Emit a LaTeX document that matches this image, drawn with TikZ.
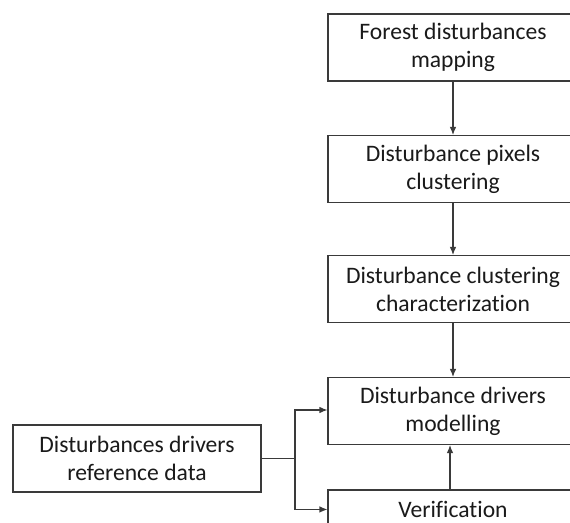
\documentclass[tikz,border=0pt]{standalone}
\usepackage{fontspec}
\setmainfont{Carlito}[Ligatures={NoCommon}]
\usetikzlibrary{arrows.meta}
\definecolor{lineclr}{HTML}{3A3A3A}
\definecolor{txtclr}{HTML}{1A1A1A}
\tikzset{
  procbox/.style={draw=lineclr, line width=1.1pt, minimum width=250pt, minimum height=67pt,
    inner sep=0pt, align=center, font=\fontsize{23.6}{28}\selectfont, text=txtclr},
  flow/.style={draw=lineclr, line width=1.1pt, -{Latex[length=8pt,width=6.5pt]}},
  plainline/.style={draw=lineclr, line width=1.1pt}
}
\begin{document}
\begin{tikzpicture}[x=1pt,y=-1pt]
\useasboundingbox (0,0) rectangle (570,522);
\clip (0,0) rectangle (570,522);
\fill[white] (0,0) rectangle (570,522);
\node[procbox] (b1) at (453,47.5) {Forest disturbances\\mapping};
\node[procbox] (b2) at (453,169) {Disturbance pixels\\clustering};
\node[procbox] (b3) at (453,289) {Disturbance clustering\\characterization};
\node[procbox] (b4) at (453,411) {Disturbance drivers\\modelling};
\node[procbox, minimum height=66pt] (b5) at (453,523) {Verification\\\phantom{x}};
\node[procbox, minimum width=248pt] (ref) at (137,458.5) {Disturbances drivers\\reference data};
\coordinate (j) at (295,458.5);
\draw[flow] (b1) -- (b2);
\draw[flow] (b2) -- (b3);
\draw[flow] (b3) -- (b4);
\draw[flow] ([xshift=-3pt]b5.north) -- ([xshift=-3pt]b4.south);
\draw[plainline] (ref.east) -- (j);
\draw[flow] (j) |- ([yshift=1pt]b4.west);
\draw[flow] (j) |- ([yshift=-20pt]b5.north west);
\end{tikzpicture}
\end{document}
